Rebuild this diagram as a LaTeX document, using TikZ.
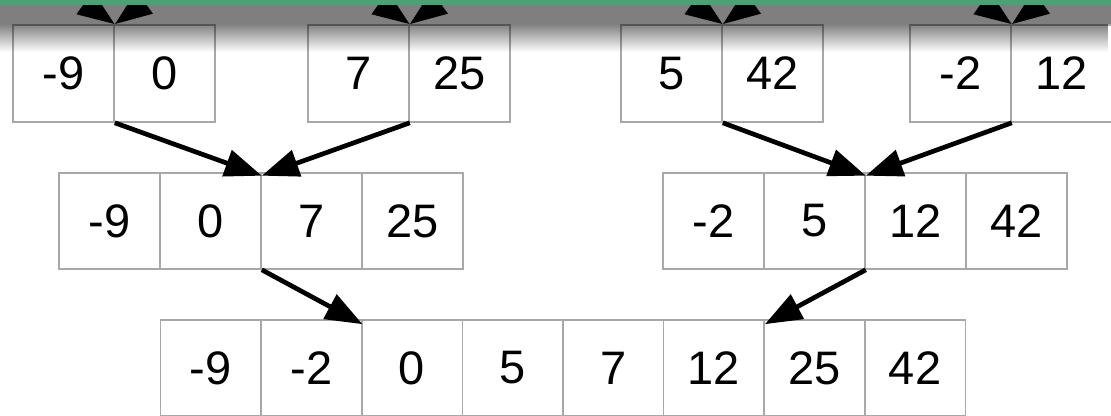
\documentclass[tikz,border=0pt]{standalone}
\usepackage{fontspec}
\setmainfont{Liberation Sans}
\usetikzlibrary{arrows.meta,fadings}
\definecolor{barGreen}{RGB}{74,161,118}
\definecolor{cellGray}{RGB}{168,168,168}
\tikzfading[name=fadedown, top color=transparent!0, bottom color=transparent!100]
\begin{document}
\begin{tikzpicture}[x=1pt,y=-1pt,
  cell/.style={draw=cellGray, line width=1.6pt, minimum width=101pt, minimum height=96pt,
    inner sep=0pt, font=\fontsize{47pt}{50pt}\selectfont},
  tcell/.style={cell, minimum height=97pt},
  bcell/.style={cell, minimum width=100.6pt},
  link/.style={line width=4.7pt, -{Triangle[length=37pt,width=27pt]}}]
\useasboundingbox (0,0) rectangle (1111,415);
\clip (0,0) rectangle (1111,415);
% top row
\node[tcell] (t1a) at (63.5,73.5) {-9};
\node[tcell] (t1b) at (164.5,73.5) {0};
\node[tcell] (t2a) at (358.5,73.5) {7};
\node[tcell] (t2b) at (459.5,73.5) {25};
\node[tcell] (t3a) at (671.5,73.5) {5};
\node[tcell] (t3b) at (772.5,73.5) {42};
\node[tcell] (t4a) at (960.5,73.5) {-2};
\node[tcell] (t4b) at (1061.5,73.5) {12};
% middle row
\node[cell] (m1a) at (109.5,221) {-9};
\node[cell] (m1b) at (210.5,221) {0};
\node[cell] (m1c) at (311.5,221) {7};
\node[cell] (m1d) at (412.5,221) {25};
\node[cell] (m2a) at (713.5,221) {-2};
\node[cell] (m2b) at (814.5,221) {5};
\node[cell] (m2c) at (915.5,221) {12};
\node[cell] (m2d) at (1016.5,221) {42};
% bottom row
\node[bcell] (b1) at (210.8,368) {-9};
\node[bcell] (b2) at (311.4,368) {-2};
\node[bcell] (b3) at (412.0,368) {0};
\node[bcell] (b4) at (512.6,368) {5};
\node[bcell] (b5) at (613.2,368) {7};
\node[bcell] (b6) at (713.8,368) {12};
\node[bcell] (b7) at (814.4,368) {25};
\node[bcell] (b8) at (915.0,368) {42};
% shadow under the header bar
\fill[black, opacity=0.5] (0,0) rectangle (1111,24);
\fill[black, opacity=0.5, path fading=fadedown] (0,24) rectangle (1111,52);
% incoming arrows from above
\coordinate (s1l) at (65.8,-10.7);  \coordinate (s1r) at (162.2,-10.7);
\coordinate (s2l) at (360.8,-10.7); \coordinate (s2r) at (457.2,-10.7);
\coordinate (s3l) at (673.8,-10.7); \coordinate (s3r) at (770.2,-10.7);
\coordinate (s4l) at (962.8,-10.7); \coordinate (s4r) at (1059.2,-10.7);
\draw[link] (s1l) -- (t1a.north east);
\draw[link] (s1r) -- (t1a.north east);
\draw[link] (s2l) -- (t2a.north east);
\draw[link] (s2r) -- (t2a.north east);
\draw[link] (s3l) -- (t3a.north east);
\draw[link] (s3r) -- (t3a.north east);
\draw[link] (s4l) -- (t4a.north east);
\draw[link] (s4r) -- (t4a.north east);
% top to middle
\draw[link] (t1a.south east) -- ([yshift=-3.5pt]m1b.north east);
\draw[link] (t2a.south east) -- ([yshift=-3.5pt]m1b.north east);
\draw[link] (t3a.south east) -- ([yshift=-3.5pt]m2b.north east);
\draw[link] (t4a.south east) -- ([yshift=-3.5pt]m2b.north east);
% middle to bottom
\draw[link] (m1b.south east) -- ([yshift=-5pt]b2.north east);
\draw[link] (m2b.south east) -- ([yshift=-5pt]b6.north east);
% header bar
\fill[barGreen] (0,0) rectangle (1111,5);
\end{tikzpicture}
\end{document}
